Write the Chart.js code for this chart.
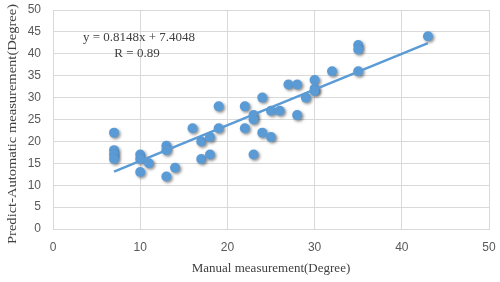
<!DOCTYPE html>
<html>
<head>
<meta charset="utf-8">
<script src="https://cdn.jsdelivr.net/npm/chart.js@4/dist/chart.umd.min.js"></script>
<style>
html,body{margin:0;padding:0;background:#fff;}
#wrap{width:500px;height:282px;position:relative;}
</style>
</head>
<body>
<div id="wrap"><canvas id="c" width="500" height="282"></canvas></div>
<script>
const manualX = [7,7,7,7,10,10,10,11,13,13,13,14,16,17,17,18,18,19,19,22,22,23,23,23,24,24,25,25,26,27,28,28,29,30,30,30,32,35,35,35,43];
const predictY = [22,18,17,16,17,16,13,15,19,18,12,14,23,20,16,21,17,28,23,28,23,26,25,17,30,22,27,21,27,33,33,26,30,34,32,31.5,36,42,41,36,44];
const xTicks = [0,10,20,30,40,50];
const yTicks = [0,5,10,15,20,25,30,35,40,45,50];
const trendSlope = 0.8148;
const trendIntercept = 7.4048;
const equationLabel = "y = 0.8148x + 7.4048";
const rLabel = "R = 0.89";
const xTitle = "Manual measurement(Degree)";
const yTitle = "Predict-Automatic measurement(Degree)";

const points = manualX.map((x,i)=>({x:x,y:predictY[i]}));
const xMin = Math.min(...manualX), xMax = Math.max(...manualX);
const trend = [xMin,xMax].map(x=>({x:x,y:trendSlope*x+trendIntercept}));

const blue = '#5b9bd5';
const gridCol = '#d9d9d9';
const tickFont = {family:'"Liberation Sans", Arial, sans-serif', size:12};
const titleFont = {family:'"Liberation Serif", "Times New Roman", serif', size:13};

const shadowPlugin = {
  id:'shadow',
  beforeDatasetDraw(chart,args){
    const ctx=chart.ctx; ctx.save();
    if(args.index===1){
      ctx.shadowColor='rgba(0,0,0,0.45)';
      ctx.shadowBlur=3; ctx.shadowOffsetX=1.5; ctx.shadowOffsetY=1.5;
    }
  },
  afterDatasetDraw(chart){ chart.ctx.restore(); }
};
const labelPlugin = {
  id:'eqLabel',
  afterDraw(chart){
    const ctx=chart.ctx;
    ctx.save();
    ctx.font='13px "Liberation Serif", "Times New Roman", serif';
    ctx.fillStyle='#404040';
    ctx.textAlign='center'; ctx.textBaseline='middle';
    ctx.fillText(equationLabel, 139, 38);
    ctx.fillText(rLabel, 137, 54);
    ctx.translate(13, 124);
    ctx.rotate(-Math.PI/2);
    const w = ctx.measureText(yTitle).width;
    ctx.scale(240/w, 1);
    ctx.fillText(yTitle, 0, 0);
    ctx.restore();
  }
};

new Chart(document.getElementById('c'), {
  type:'scatter',
  data:{datasets:[
    {type:'line', data:trend, borderColor:blue, borderWidth:2.5, pointRadius:0, fill:false, order:0},
    {data:points, backgroundColor:blue, borderColor:blue, borderWidth:0, pointRadius:5, pointHoverRadius:5, order:1}
  ]},
  options:{
    responsive:false, animation:false,
    layout:{autoPadding:false, padding:{left:0,right:11,top:10,bottom:0}},
    plugins:{legend:{display:false}, tooltip:{enabled:false}},
    scales:{
      x:{type:'linear', min:0, max:50,
        afterBuildTicks(s){ s.ticks = xTicks.map(v=>({value:v})); },
        afterFit(s){ s.height = 53; s.paddingLeft = 0; s.paddingRight = 0; },
        grid:{color:gridCol, lineWidth:1, drawTicks:true, tickLength:11, tickColor:'rgba(0,0,0,0)'},
        border:{color:gridCol},
        ticks:{color:'#595959', font:tickFont, padding:0, maxRotation:0},
        title:{display:true, text:xTitle, color:'#404040', font:titleFont, padding:{top:4,bottom:6}}
      },
      y:{type:'linear', min:0, max:50,
        afterBuildTicks(s){ s.ticks = yTicks.map(v=>({value:v})); },
        afterFit(s){ s.width = 53; s.paddingTop = 0; s.paddingBottom = 0; },
        grid:{color:gridCol, lineWidth:1, drawTicks:true, tickLength:12, tickColor:'rgba(0,0,0,0)'},
        border:{color:gridCol},
        ticks:{color:'#595959', font:tickFont, padding:0}
      }
    }
  },
  plugins:[shadowPlugin,labelPlugin]
});
</script>
</body>
</html>
